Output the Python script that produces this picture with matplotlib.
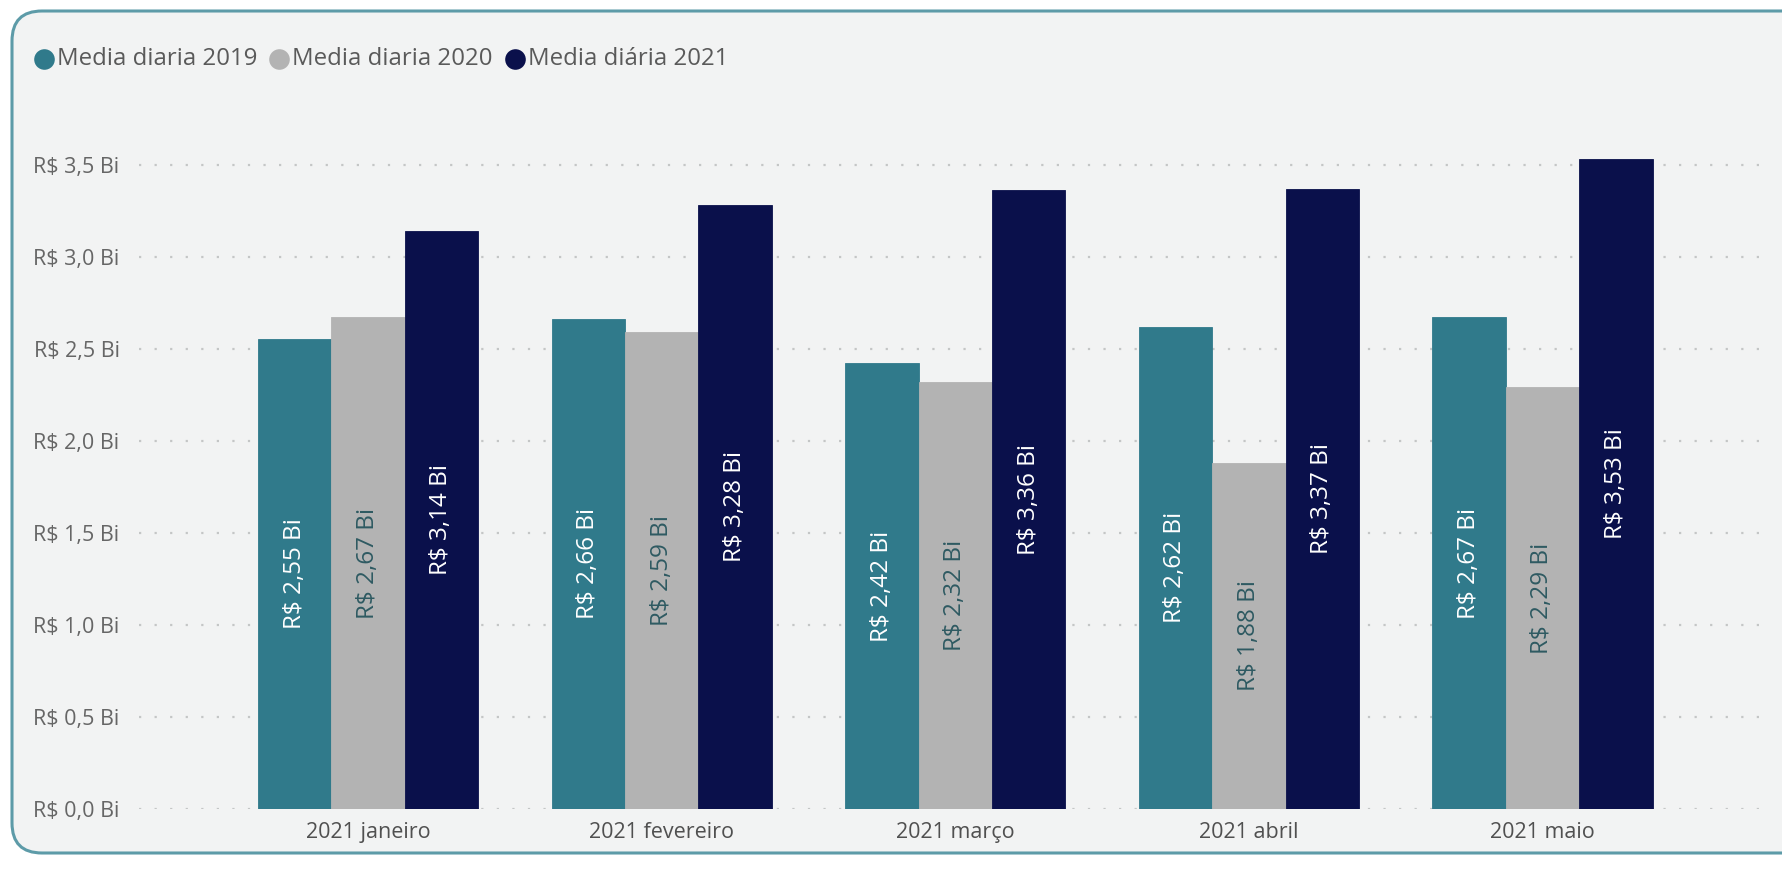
#!/usr/bin/env python3
"""Media diaria 2019/2020/2021 por mes (grouped bars, Power BI look) -> out.png"""
import numpy as np
import matplotlib
matplotlib.use("Agg")
import matplotlib.pyplot as plt
from matplotlib.patches import FancyBboxPatch

plt.rcParams["font.family"] = ["Open Sans", "DejaVu Sans"]

MONTHS = ["2021 janeiro", "2021 fevereiro", "2021 março", "2021 abril", "2021 maio"]
SERIES = ["Media diaria 2019", "Media diaria 2020", "Media diária 2021"]
MEDIA_2019 = [2.55, 2.66, 2.42, 2.62, 2.67]
MEDIA_2020 = [2.67, 2.59, 2.32, 1.88, 2.29]
MEDIA_2021 = [3.14, 3.28, 3.36, 3.37, 3.53]
YTICKS = [0.0, 0.5, 1.0, 1.5, 2.0, 2.5, 3.0, 3.5]

COLORS = ["#307A8B", "#B3B3B3", "#0A104B"]
LABEL_COLORS = ["white", "#2E5A62", "white"]
BG = "#F2F3F3"
W, H = 1783, 869


def fmt(v, dec):
    return "R$ " + f"{v:.{dec}f}".replace(".", ",") + " Bi"


def main():
    fig = plt.figure(figsize=(W / 100, H / 100), dpi=100)
    fig.patch.set_facecolor("white")

    # rounded card behind the visual
    bg = fig.add_axes([0, 0, 1, 1], zorder=-5)
    bg.set_xlim(0, W)
    bg.set_ylim(H, 0)
    bg.axis("off")
    bg.add_patch(FancyBboxPatch((12, 11), W + 30, 853 - 11,
                                boxstyle="round,pad=0,rounding_size=30",
                                facecolor=BG, edgecolor="#5D9BA8", linewidth=2.2))

    ax = fig.add_axes([139 / W, 1 - 808.5 / H, 1631 / W, (808.5 - 150) / H])
    ax.set_facecolor("none")

    x = np.arange(len(MONTHS))
    w = 0.25
    data = [MEDIA_2019, MEDIA_2020, MEDIA_2021]
    for i, vals in enumerate(data):
        pos = x + (i - 1) * w
        ax.bar(pos, vals, w, color=COLORS[i], edgecolor=COLORS[i], linewidth=0.6,
               zorder=3)
        for xi, v in zip(pos, vals):
            ax.text(xi, v / 2, fmt(v, 2), rotation=90, ha="center", va="center",
                    fontsize=17.5, color=LABEL_COLORS[i], zorder=4)

    ax.set_xlim(-0.78, 4.775)
    ax.set_ylim(0, 3.58)
    ax.set_yticks(YTICKS)
    ax.set_yticklabels([fmt(t, 1) for t in YTICKS])
    ax.set_xticks(x)
    ax.set_xticklabels(MONTHS)
    ax.tick_params(axis="y", length=0, pad=14, labelsize=15.5, labelcolor="#666666")
    ax.tick_params(axis="x", length=0, pad=10, labelsize=15.5, labelcolor="#505050")
    for s in ax.spines.values():
        s.set_visible(False)
    ax.grid(True, axis="y", color="#C4C6C6", linestyle=(0, (1, 6)), linewidth=1.6,
            zorder=1)
    ax.grid(False, axis="x")

    # legend row
    lx = 35
    ly = 59
    for i, name in enumerate(SERIES):
        bg.scatter([lx + 9], [ly], s=220, color=COLORS[i], linewidths=0)
        t = bg.text(lx + 22, ly, name, color="#5A5A5A", fontsize=17.3,
                    ha="left", va="center")
        fig.canvas.draw()
        bb = t.get_window_extent()
        lx = bb.x1 + 13

    fig.savefig("out.png", dpi=100, facecolor=fig.get_facecolor())


if __name__ == "__main__":
    main()
